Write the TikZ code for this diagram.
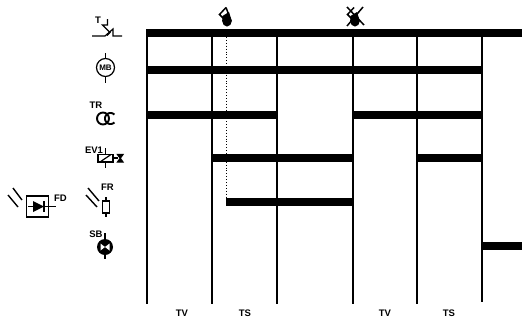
\documentclass[tikz,border=0pt]{standalone}
\usepackage{fontspec}
\setmainfont{Liberation Sans}
\tikzset{
  barline/.style={line width=8pt,line cap=butt},
  tick/.style={line width=1.2pt},
  sym/.style={line width=1.2pt},
  lab/.style={font=\fontsize{9.5}{10}\selectfont\bfseries,inner sep=0pt},
}
\begin{document}
\begin{tikzpicture}[x=1pt,y=-1pt]
\useasboundingbox (0,0) rectangle (522,322);
\fill[white] (0,0) rectangle (522,322);
% time lines
\foreach \n/\x/\e in {a/147/304,b/212/304,c/277/304,d/353/304,e/417/304,f/482/302}{
  \coordinate (\n top) at (\x,33);
  \coordinate (\n bot) at (\x,\e);
  \draw[tick] (\n top) -- (\n bot);
}
\coordinate (fr0) at (226,198);
\coordinate (dot0) at (226,37);
\draw[line width=0.9pt,dotted] (dot0) -- (fr0);
% bars
\foreach \y/\xa/\xb in {33/146/522,70/147/482,115/147/277,115/353/482,158/212/353,158/417/482,202/226/353,246/482/522}{
  \coordinate (s) at (\xa,\y); \coordinate (t) at (\xb,\y);
  \draw[barline] (s) -- (t);
}
% bell symbols
\fill (227,21) ellipse (4.8 and 5.5);
\fill (222.5,16) -- (229,12) -- (231.8,21) -- (222.2,21) -- cycle;
\draw[line width=1.5pt] (226,7.5) -- (219.5,14.5) -- (224.5,19.5) (226,7.5) -- (228.5,14);
\begin{scope}[shift={(128,0)}]
\fill (227,21) ellipse (4.8 and 5.5);
\fill (222.5,16) -- (229,12) -- (231.8,21) -- (222.2,21) -- cycle;
\draw[line width=1.5pt] (226,7.5) -- (219.5,14.5) -- (224.5,19.5);
\draw[line width=1.5pt] (219,7) -- (236,25) (235,7) -- (219,26);
\end{scope}
% T
\node[lab] (T) at (98,20.5) {T};
\draw[sym] (92,36) -- (105,36) -- (113,29) -- (113,36) -- (122,36);
\draw[sym] (107.5,19) -- (107.5,25) -- (102.5,25) -- (110,32.5) -- (107,35.5);
% MB
\node[draw,circle,line width=1.2pt,minimum size=18pt,inner sep=0pt,font=\fontsize{8}{8}\selectfont\bfseries] (MB) at (105.5,67.5) {MB};
\coordinate (mbt) at (105.5,53); \coordinate (mbb) at (105.5,83);
\draw[sym] (mbt) -- (MB) (MB) -- (mbb);
% TR
\node[lab] (TR) at (96,105) {TR};
\draw[line width=1.9pt] (103,118.5) circle (6);
\draw[line width=1.9pt] plot[smooth,domain=45:315,samples=30] ({110.5+5.5*cos(\x)},{118.5+5.5*sin(\x)});
% EV1
\node[lab] (EV) at (94,150) {EV1};
\draw[sym] (105.7,148) -- (105.7,168);
\draw[line width=1.3pt,fill=white] (98,154.5) rectangle (113,162);
\draw[sym] (100,162) -- (111,154.5);
\draw[sym] (113,158) -- (118,158);
\draw[sym,fill=black] (117.5,154.5) -- (123,154.5) -- (117.5,162) -- (123,162) -- cycle;
% FR
\node[lab] (FR) at (107.5,187) {FR};
\node[draw,line width=1.1pt,minimum width=7.5pt,minimum height=12pt,inner sep=0pt] (FRb) at (106,207) {};
\coordinate (frt) at (106,197); \coordinate (frb) at (106,217);
\draw[sym] (frt) -- (FRb) (FRb) -- (frb);
\draw[line width=1.4pt] (88,188) -- (99,201) (86,195) -- (97,207);
% SB
\node[lab] (SB) at (96,234) {SB};
\draw[sym] (105,233) -- (105,259);
\fill (105,247) circle (8);
\fill[white] (100.5,243.5) -- (105,247) -- (100.5,250.5) -- cycle;
\fill[white] (109.5,243.5) -- (105,247) -- (109.5,250.5) -- cycle;
% FD
\node[draw,line width=1.3pt,minimum width=22pt,minimum height=21pt,inner sep=0pt] (FDb) at (37.5,206.5) {};
\fill (33,201) -- (44,206.5) -- (33,212) -- cycle;
\draw[sym] (44,201) -- (44,212);
\coordinate (fdl) at (28,206.5); \coordinate (fdr) at (56,206.5);
\draw[sym] (fdl) -- (fdr);
\node[lab] (FD) at (60.5,198) {FD};
\draw[line width=1.4pt] (13,188) -- (22,200) (8,195) -- (18,207);
% bottom labels
\node[lab] (tv1) at (182,313.7) {TV};
\node[lab] (ts1) at (245,313.7) {TS};
\node[lab] (tv2) at (385,313.7) {TV};
\node[lab] (ts2) at (449,313.7) {TS};
\end{tikzpicture}
\end{document}
